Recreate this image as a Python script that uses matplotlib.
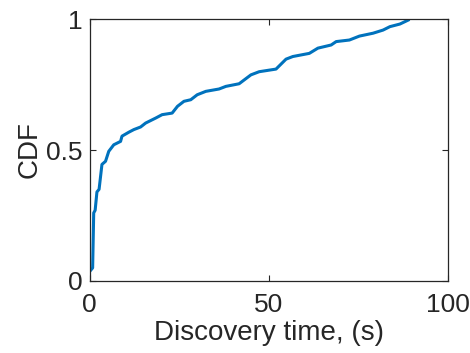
import matplotlib
matplotlib.use('Agg')
import matplotlib.pyplot as plt

# discovery time (s) vs CDF
t_sec = [0.2, 0.8, 1.1, 1.5, 2.0, 2.6, 3.4, 4.4, 5.3, 6.7, 8.6, 9.0, 10.9, 12.3,
         14.2, 15.6, 18.4, 20.2, 23.0, 24.5, 26.3, 28.2, 30.0, 32.4, 36.1, 38.0,
         41.7, 45.0, 47.3, 52.0, 54.8, 56.7, 61.3, 63.7, 67.4, 68.8, 72.5, 75.3,
         79.1, 81.9, 83.8, 86.6, 88.9]
cdf = [0.04, 0.05, 0.26, 0.27, 0.34, 0.35, 0.445, 0.457, 0.495, 0.52, 0.533, 0.553,
       0.568, 0.578, 0.588, 0.603, 0.622, 0.635, 0.641, 0.667, 0.686, 0.692, 0.711,
       0.724, 0.733, 0.743, 0.753, 0.787, 0.799, 0.809, 0.847, 0.857, 0.869, 0.889,
       0.901, 0.914, 0.920, 0.935, 0.946, 0.958, 0.971, 0.981, 0.996]

plt.rcParams['font.family'] = ['Liberation Sans', 'DejaVu Sans']

fig = plt.figure(figsize=(4.7, 3.53), dpi=100)
ax = fig.add_axes([0.191, 0.204, 0.762, 0.742])
ax.plot(t_sec, cdf, color='#0072BD', linewidth=2.2)

ax.set_xlim(0, 100)
ax.set_ylim(0, 1)
ax.set_xticks([0, 50, 100])
ax.set_yticks([0, 0.5, 1])
ax.set_xticklabels(['0', '50', '100'])
ax.set_yticklabels(['0', '0.5', '1'])
ax.tick_params(direction='in', top=True, right=True, length=4, width=0.8,
               labelsize=19, colors='#262626')
ax.tick_params(axis='x', pad=9)
ax.tick_params(axis='y', pad=5.5)
for s in ax.spines.values():
    s.set_color('#262626')
    s.set_linewidth(0.9)
ax.set_xlabel('Discovery time, (s)', fontsize=20, color='#262626', labelpad=2)
ax.set_ylabel('CDF', fontsize=20, color='#262626', labelpad=2)

fig.savefig('out.png', dpi=100)
